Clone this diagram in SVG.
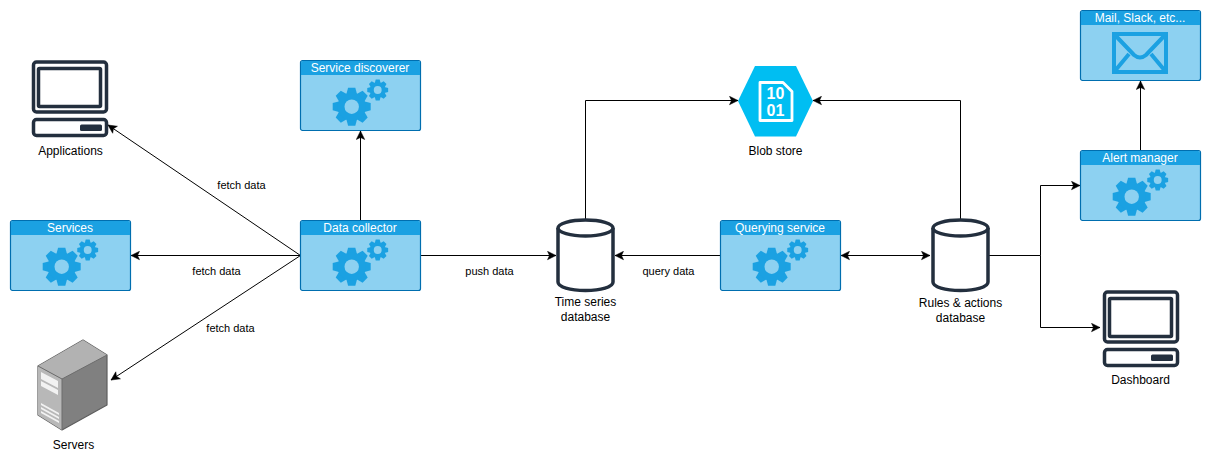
<svg xmlns="http://www.w3.org/2000/svg" width="1211" height="471" viewBox="0 0 1211 471">
<style>
text{font-family:"Liberation Sans",Arial,sans-serif;font-size:12px;fill:#000;text-anchor:middle}
.el{font-size:11px}
.hd{fill:#fff}
.c{fill:none;stroke:#000;stroke-width:1}
.body{fill:#8DD1F1;stroke:#006EAF;stroke-width:1.200}
.bar{fill:#1BA1E2}
.dk{fill:none;stroke:#232F3E;stroke-width:3.500}
.cyl{fill:#fff;stroke:#232F3E;stroke-width:3.500}
.digit{font-size:16px;font-weight:bold;fill:#fff}
</style>
<defs>
<marker id="a" viewBox="0 0 10 10" refX="9.500" refY="5" markerWidth="10" markerHeight="10" orient="auto-start-reverse" markerUnits="userSpaceOnUse"><path d="M1 .8L9.500 5L1 9.200L3 5Z" fill="#000" stroke="#000" stroke-width="0.500"/></marker>
<path id="tooth" d="M-5.500 -12L-3.600 -19H3.600L5.500 -12Z" fill="#1BA1E2"/>
<g id="gear">
<use href="#tooth"/><use href="#tooth" transform="rotate(45)"/><use href="#tooth" transform="rotate(90)"/><use href="#tooth" transform="rotate(135)"/><use href="#tooth" transform="rotate(180)"/><use href="#tooth" transform="rotate(225)"/><use href="#tooth" transform="rotate(270)"/><use href="#tooth" transform="rotate(315)"/>
<circle r="14" fill="#1BA1E2"/><circle r="7.200" fill="#8DD1F1"/>
</g>
<g id="box">
<rect class="body" x="0.500" y="0.500" width="120" height="70" rx="2"/>
<path class="bar" d="M1 3a2 2 0 0 1 2-2H118a2 2 0 0 1 2 2V15H1Z"/>
</g>
<g id="gears">
<use href="#gear" transform="translate(51.700 46.700)"/>
<use href="#gear" transform="translate(77.700 30) scale(.55)"/>
</g>
<g id="term">
<rect class="dk" x="33.500" y="62" width="73" height="50" rx="3"/>
<rect class="dk" x="38.500" y="68.500" width="62" height="38" rx="1"/>
<rect class="dk" x="33.500" y="119.500" width="73" height="16" rx="3"/>
<rect x="80" y="124.500" width="22" height="6.500" rx="1.500" fill="#232F3E"/>
</g>
<g id="cyl">
<path class="cyl" d="M558 228V282C558 287 570 290.500 585.500 290.500C601 290.500 613 287 613 282V228"/>
<ellipse class="cyl" cx="585.500" cy="228" rx="27.500" ry="8"/>
</g>
</defs>

<g id="connectors">
<path class="c" marker-end="url(#a)" d="M300.500 255.500L108 125"/>
<path class="c" marker-end="url(#a)" d="M300.500 255.500H131"/>
<path class="c" marker-end="url(#a)" d="M300.500 255.500L111 380"/>
<path class="c" marker-end="url(#a)" d="M360.500 220.500V131"/>
<path class="c" marker-end="url(#a)" d="M420.500 255.500H556"/>
<path class="c" marker-end="url(#a)" d="M720.500 255.500H615"/>
<path class="c" marker-end="url(#a)" d="M585.500 219V100.500H738"/>
<path class="c" marker-end="url(#a)" d="M960.500 219V100.500H813"/>
<path class="c" marker-start="url(#a)" marker-end="url(#a)" d="M841 255.500H930"/>
<path class="c" marker-end="url(#a)" d="M989 255.500H1040.500V185.500H1080"/>
<path class="c" marker-end="url(#a)" d="M1040.500 255.500V327.500H1100"/>
<path class="c" marker-end="url(#a)" d="M1140.500 150.500V81"/>
<text class="el" x="241.500" y="189">fetch data</text>
<text class="el" x="216.500" y="275">fetch data</text>
<text class="el" x="230.500" y="332">fetch data</text>
<text class="el" x="489.500" y="275">push data</text>
<text class="el" x="668.500" y="275">query data</text>
</g>

<g id="applications"><use href="#term"/><text x="70.500" y="155">Applications</text></g>
<g id="services" transform="translate(10 220)"><use href="#box"/><use href="#gears"/><text class="hd" x="60" y="12">Services</text></g>
<g id="servers">
<path d="M83 340L107 355V405L62 430L38 415V366Z" fill="#808080" stroke="#5E5E5E" stroke-width="1.200" stroke-linejoin="round"/>
<path d="M38 366L83 340L107 355L62 379Z" fill="#B2B2B2"/>
<path d="M38 366L62 379V430L38 415Z" fill="#B8B8B8"/>
<path d="M38 366L62 379L107 355M62 379V430" fill="none" stroke="#6C6C6C" stroke-width="1"/>
<path d="M41 372L58 381V388L41 379ZM41 381L58 390V395L41 386ZM41 403L59 413V415L41 405ZM41 407L59 417V419L41 409ZM41 411L59 421V423L41 413Z" fill="#F2F2F2"/>
<text x="73.500" y="449">Servers</text>
</g>
<g id="service-discoverer" transform="translate(300 60)"><use href="#box"/><use href="#gears"/><text class="hd" x="60" y="12">Service discoverer</text></g>
<g id="data-collector" transform="translate(300 220)"><use href="#box"/><use href="#gears"/><text class="hd" x="60" y="12">Data collector</text></g>
<g id="time-series"><use href="#cyl"/><text x="585.500" y="306">Time series</text><text x="585.500" y="321">database</text></g>
<g id="blob">
<path d="M738 101L755 66H796L813 101L796 136.500H755Z" fill="#00BEF2"/>
<path d="M760 82.500H783L792 91.500V120.500H760Z" fill="none" stroke="#fff" stroke-width="2.800" stroke-linejoin="round"/>
<text class="digit" x="775.500" y="99">10</text>
<text class="digit" x="775.500" y="115.500">01</text>
<text x="775.500" y="155">Blob store</text>
</g>
<g id="querying" transform="translate(720 220)"><use href="#box"/><use href="#gears"/><text class="hd" x="60" y="12">Querying service</text></g>
<g id="rules"><use href="#cyl" x="375"/><text x="960.500" y="307">Rules &amp; actions</text><text x="960.500" y="322">database</text></g>
<g id="alert" transform="translate(1080 150)"><use href="#box"/><use href="#gears"/><text class="hd" x="60" y="12">Alert manager</text></g>
<g id="mail" transform="translate(1080 10)"><use href="#box"/>
<g fill="none" stroke="#1BA1E2" stroke-width="4"><rect x="34" y="24" width="52" height="38"/><path d="M34 24L54 45Q60 50 66 45L86 24M34 62L49 44M86 62L71 44"/></g>
<text class="hd" x="60" y="12">Mail, Slack, etc...</text></g>
<g id="dashboard"><use href="#term" x="1071" y="230"/><text x="1140.500" y="384">Dashboard</text></g>
</svg>
